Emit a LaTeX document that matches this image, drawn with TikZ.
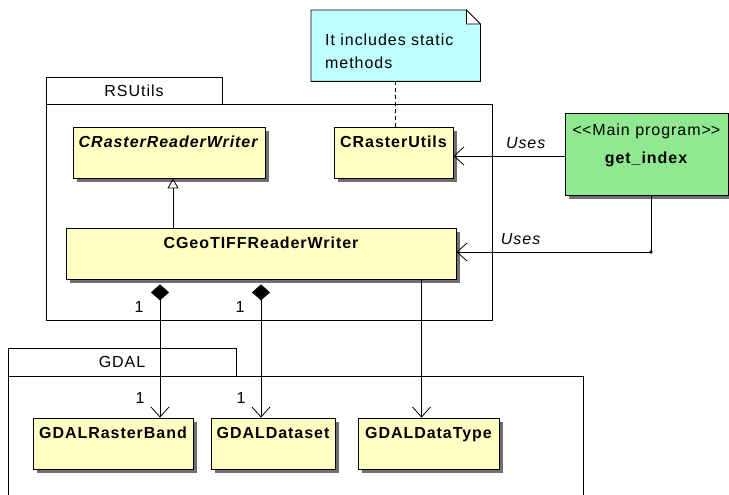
\documentclass[tikz,border=0pt]{standalone}
\usepackage{fontspec}
\setmainfont{Liberation Sans}[LetterSpace=6]
\usetikzlibrary{arrows.meta,shadows,backgrounds}
\definecolor{classyellow}{RGB}{255,255,196}
\definecolor{maingreen}{RGB}{144,232,144}
\definecolor{notecyan}{RGB}{192,255,255}
\definecolor{shadowgray}{RGB}{112,112,112}
\tikzset{
    umlfont/.style={font=\fontsize{16}{19}\selectfont},
    umlclass/.style={draw, fill=classyellow, line width=0.8pt,
        font=\fontsize{16}{19}\selectfont\bfseries,
        inner xsep=2pt, inner ysep=5pt, text height=15pt, text depth=26pt,
        drop shadow={shadow xshift=4pt, shadow yshift=-4pt, fill=shadowgray, opacity=1}},
    pkgtab/.style={draw, line width=0.8pt, umlfont, inner sep=0pt},
    pkgbody/.style={draw, line width=0.8pt, inner sep=0pt},
    link/.style={line width=0.8pt},
    navig/.style={link, -{Straight Barb[length=10pt, width=18pt]}},
    compos/.style={link, {Diamond[length=16pt, width=18pt]}-{Straight Barb[length=10pt, width=18pt]}},
    inherit/.style={link, -{Triangle[open, length=10pt, width=11pt]}},
    mult/.style={umlfont, inner sep=0pt},
    useslabel/.style={font=\fontsize{16}{19}\selectfont\itshape, inner sep=0pt}
}
\begin{document}
\begin{tikzpicture}[x=1pt, y=-1pt, >=latex]
    \useasboundingbox (0,0) rectangle (729,495);
    \clip (0,0) rectangle (729,495);

    % packages
    \node[pkgtab, minimum width=176, minimum height=27] (rstab) at (134,90.5) {RSUtils};
    \node[pkgbody, minimum width=446, minimum height=216] (rsbody) at (269,212) {};
    \node[pkgtab, minimum width=228, minimum height=28] (gdaltab) at (122,362) {GDAL};
    \node[pkgbody, minimum width=575, minimum height=160, anchor=north west] (gdalbody) at (8,376) {};

    % note
    \node[umlfont, anchor=north west, minimum width=169, text width=141, align=left,
          inner xsep=14pt, inner ysep=5pt, text height=30pt, text depth=31pt] (note) at (311,10)
          {It includes static\\[4pt]methods};
    \begin{scope}[on background layer]
        \draw[link, fill=notecyan] (note.north west) -- ([xshift=-14pt]note.north east)
            -- ([yshift=-14pt]note.north east) -- (note.south east) -- (note.south west) -- cycle;
        \draw[link, fill=white] ([xshift=-14pt]note.north east) -- ([xshift=-14pt, yshift=-14pt]note.north east)
            -- ([yshift=-14pt]note.north east) -- cycle;
    \end{scope}

    % classes
    \node[umlclass, minimum width=192] (crw) at (169,152.5) {\textit{CRasterReaderWriter}};
    \node[umlclass, minimum width=119] (crut) at (393.5,152.5) {CRasterUtils};
    \node[umlclass, minimum width=390] (cgeo) at (261,253.5) {CGeoTIFFReaderWriter};
    \node[umlclass, minimum width=160] (grb) at (113,443.5) {GDALRasterBand};
    \node[umlclass, minimum width=124] (gds) at (273,443.5) {GDALDataset};
    \node[umlclass, minimum width=141] (gdt) at (428.5,443.5) {GDALDataType};
    \node[draw, fill=maingreen, line width=0.8pt, umlfont, align=center,
          minimum width=163, inner ysep=5pt, text height=45pt, text depth=27pt,
          drop shadow={shadow xshift=4pt, shadow yshift=-4pt, fill=shadowgray, opacity=1}]
          (getidx) at (646.5,154) {<\kern0pt<Main program>\kern0pt>\\[9pt]\textbf{get\_index}};

    % connectors
    \draw[link, dash pattern=on 4pt off 3pt] ([xshift=1.5pt]crut.north |- note.south) -- ([xshift=1.5pt]crut.north);
    \draw[inherit] ([xshift=4pt]cgeo.north -| crw.south) -- ([xshift=4pt]crw.south);
    \draw[compos] ([yshift=-5pt]cgeo.south -| grb.north) ++(47,0) -- ([xshift=47pt]grb.north);
    \draw[compos] (cgeo.south -| gds.north) ++(-12,5) -- ([xshift=-12pt]gds.north);
    \draw[navig] (cgeo.south -| gdt.north) ++(-7,0) -- ([xshift=-7pt]gdt.north);

    \draw[navig] (getidx.west |- 0,156) -- (crut.east |- 0,156)
        node[useslabel, pos=0.35, above=7pt] {Uses};
    \coordinate (bend) at (651,252);
    \draw[navig] (getidx.south -| bend) -- (bend) -- (cgeo.east |- bend)
        node[useslabel, pos=0.67, above=7pt] {Uses};
    \fill (bend) circle (1.8);

    % multiplicities
    \node[mult] (m1) at (139,307) {1};
    \node[mult] (m2) at (240,307) {1};
    \node[mult] (m3) at (140,398) {1};
    \node[mult] (m4) at (241,398) {1};
\end{tikzpicture}
\end{document}
